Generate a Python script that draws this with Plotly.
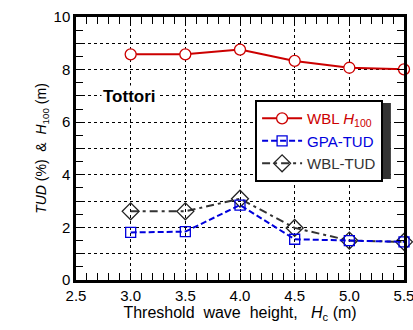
import plotly.graph_objects as go

x_vals = [3.0, 3.5, 4.0, 4.5, 5.0, 5.5]
wbl_h100 = [8.58, 8.58, 8.76, 8.33, 8.07, 8.01]
gpa_tud = [1.81, 1.84, 2.85, 1.55, 1.50, 1.45]
wbl_tud = [2.61, 2.61, 3.09, 1.98, 1.50, 1.45]

y_tickvals = [0, 2, 4, 6, 8, 10]
y_ticktext = ["0", "2", "4", "6", "8", "10"]
x_tickvals = [2.5, 3.0, 3.5, 4.0, 4.5, 5.0, 5.5]
x_ticktext = ["2.5", "3.0", "3.5", "4.0", "4.5", "5.0", "5.5"]

fig = go.Figure()

fig.add_trace(go.Scatter(
    x=x_vals, y=wbl_tud, mode="lines+markers", cliponaxis=False,
    name='<span style="color:#333333">WBL-TUD</span>',
    line=dict(color="#333333", width=2, dash="8px,4px,3px,4px"),
    marker=dict(symbol="diamond-open", size=13, color="#222222", line=dict(width=1.3)),
    legendrank=3,
))
fig.add_trace(go.Scatter(
    x=x_vals, y=gpa_tud, mode="lines+markers", cliponaxis=False,
    name='<span style="color:#0000dd">GPA-TUD</span>',
    line=dict(color="#0000dd", width=2, dash="6px,3px"),
    marker=dict(symbol="square-open", size=10, color="#0000dd", line=dict(width=1.3)),
    legendrank=2,
))
fig.add_trace(go.Scatter(
    x=x_vals, y=wbl_h100, mode="lines+markers", cliponaxis=False,
    name='<span style="color:#cc0000">WBL <i>H</i><sub>100</sub></span>',
    line=dict(color="#cc0000", width=2),
    marker=dict(symbol="circle", size=11, color="white", line=dict(color="#cc0000", width=1.3)),
    legendrank=1,
))

# invisible trace to activate mirrored axes
fig.add_trace(go.Scatter(x=[2.5], y=[0], xaxis="x2", yaxis="y2", showlegend=False,
                         mode="markers", marker=dict(opacity=0), hoverinfo="skip"))

axis_font = dict(family="Arial, Liberation Sans, sans-serif", size=15, color="black")

fig.update_layout(
    width=413, height=330,
    margin=dict(l=76, r=9, t=17, b=50, autoexpand=False),
    paper_bgcolor="white", plot_bgcolor="white",
    font=dict(family="Arial, Liberation Sans, sans-serif", size=15, color="black"),
    xaxis=dict(
        range=[2.5, 5.5], tickvals=x_tickvals, ticktext=x_ticktext,
        ticklabeloverflow="allow",
        showgrid=True, gridcolor="black", griddash="dot", gridwidth=1,
        ticks="inside", ticklen=7, tickcolor="black", tickwidth=1,
        minor=dict(dtick=0.1, ticks="inside", ticklen=7, tickcolor="black", tickwidth=1, showgrid=False),
        showline=True, linecolor="black", linewidth=2.5,
        tickfont=axis_font, zeroline=False,
        title=dict(text="Threshold  wave  height,   <i>H</i><sub>c</sub> (m)",
                   font=dict(size=16), standoff=2),
    ),
    yaxis=dict(
        range=[0, 10], tickvals=y_tickvals, ticktext=y_ticktext,
        ticklabeloverflow="allow",
        showgrid=False,
        ticks="inside", ticklen=7, tickcolor="black", tickwidth=1,
        minor=dict(dtick=0.5, ticks="inside", ticklen=7, tickcolor="black", tickwidth=1, showgrid=False),
        showline=True, linecolor="black", linewidth=2.5,
        tickfont=axis_font, zeroline=False,
        title=dict(text="<i>TUD</i> (%)  &  <i>H</i><sub>100</sub> (m)",
                   font=dict(size=14), standoff=4),
    ),
    xaxis2=dict(
        overlaying="x", side="top", range=[2.5, 5.5], dtick=0.5,
        showticklabels=False, showgrid=False, zeroline=False,
        ticks="inside", ticklen=7, tickcolor="black",
        minor=dict(dtick=0.1, ticks="inside", ticklen=7, tickcolor="black"),
        showline=True, linecolor="black", linewidth=2.5,
    ),
    yaxis2=dict(
        overlaying="y", side="right", range=[0, 10], dtick=1,
        showticklabels=False, zeroline=False,
        showgrid=True, gridcolor="black", griddash="dot", gridwidth=1,
        ticks="inside", ticklen=7, tickcolor="black",
        minor=dict(dtick=0.5, ticks="inside", ticklen=7, tickcolor="black"),
        showline=True, linecolor="black", linewidth=2.5,
    ),
    legend=dict(
        x=0.546, y=0.684, xanchor="left", yanchor="top",
        bgcolor="white", bordercolor="black", borderwidth=2,
        font=dict(size=15), itemwidth=40, tracegroupgap=0,
    ),
    showlegend=True,
)

# legend shadow
fig.add_shape(type="rect", xref="paper", yref="paper",
              x0=0.555, x1=0.960, y0=0.384, y1=0.673,
              fillcolor="#333333", line=dict(width=0), layer="above")

fig.add_annotation(
    x=2.985, y=6.97, xref="x", yref="y", text="<b>Tottori</b>",
    showarrow=False, font=dict(size=17, color="black"),
    bgcolor="white",
)

fig.write_html("out.html", config={"displayModeBar": False},
               post_script="document.body.style.margin='0';")
